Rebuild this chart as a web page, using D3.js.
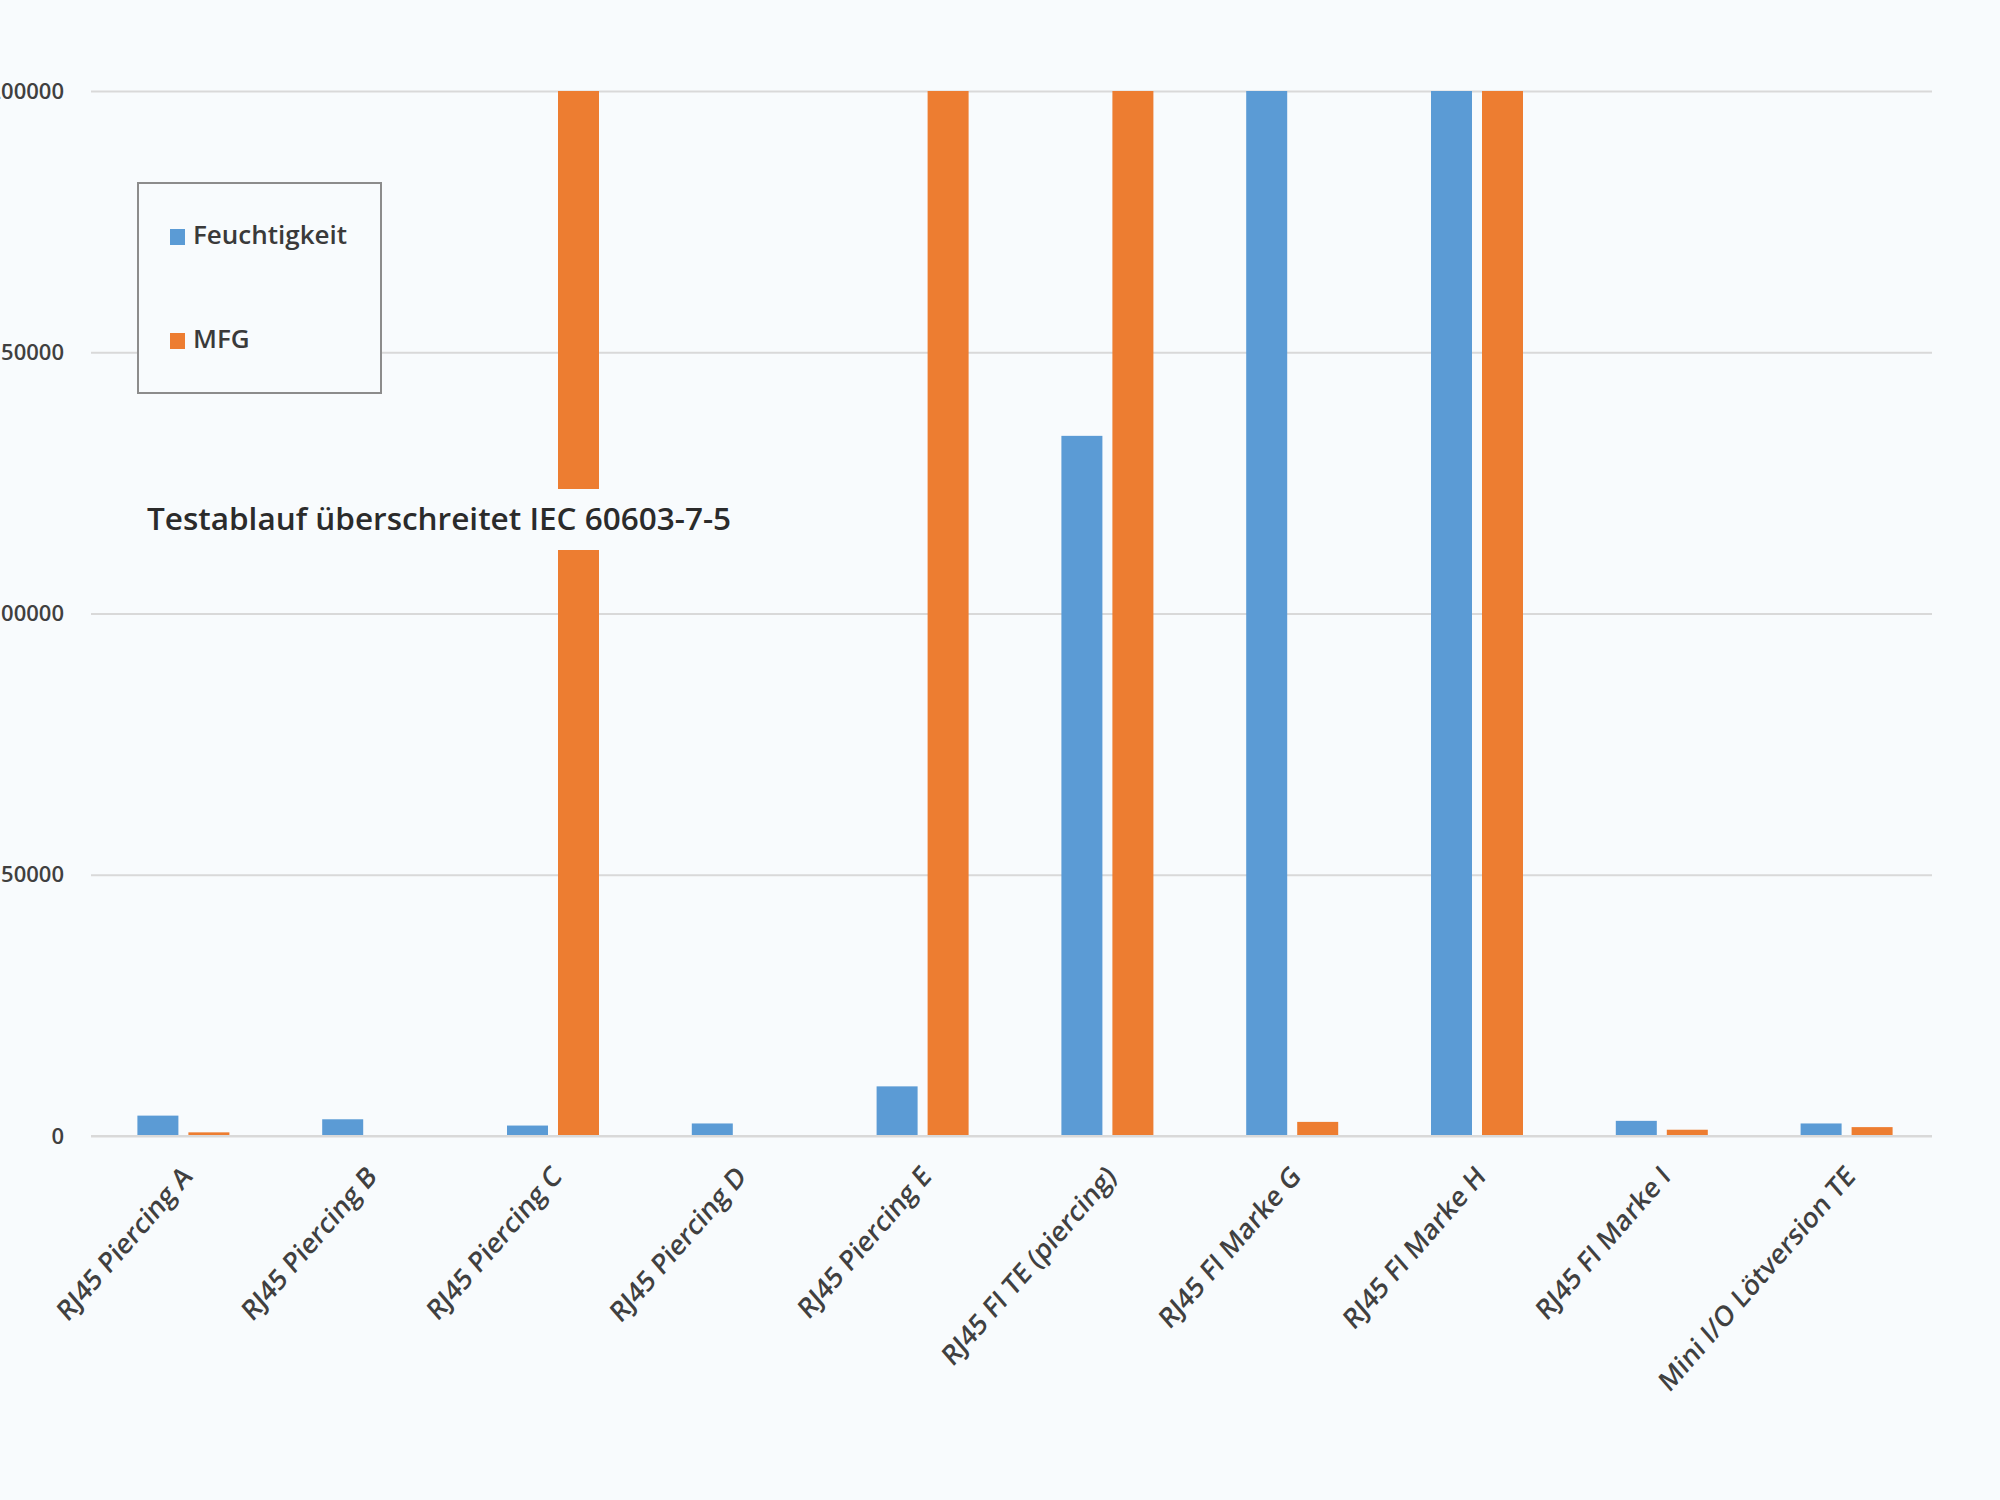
<!DOCTYPE html>
<html><head><meta charset="utf-8">
<script src="https://cdn.jsdelivr.net/npm/d3@7"></script>
<style>html,body{margin:0;padding:0;background:#f8fbfd;}</style>
</head><body>
<svg id="c" width="2000" height="1500"></svg>
<script>
const categories = ["RJ45 Piercing A","RJ45 Piercing B","RJ45 Piercing C","RJ45 Piercing D","RJ45 Piercing E","RJ45 FI TE (piercing)","RJ45 FI Marke G","RJ45 FI Marke H","RJ45 FI Marke I","Mini I/O Lötversion TE"];
const feuchtigkeit = [3900, 3200, 2000, 2400, 9500, 134000, 200000, 200000, 2900, 2400];
const mfg = [700, 0, 200000, 0, 200000, 200000, 2700, 200000, 1200, 1700];
const yTicks = [0, 50000, 100000, 150000, 200000];
const seriesNames = ["Feuchtigkeit","MFG"];
const colors = ["#5b9bd5","#ed7d31"];
const annotation = "Testablauf überschreitet IEC 60603-7-5";

const svg = d3.select("#c");
svg.append("rect").attr("width",2000).attr("height",1500).attr("fill","#f8fbfd");
const m = {left:91, top:91, bottom:364};
const W = 1848, H = 1500-m.top-m.bottom;
const gridW = 1932-m.left;
const g = svg.append("g").attr("transform",`translate(${m.left},${m.top})`);

const x = d3.scaleBand().domain(categories).range([0,W]).padding(0);
const y = d3.scaleLinear().domain([0,200000]).range([H,0]);

// gridlines
const ya = g.append("g").call(d3.axisLeft(y).tickValues(yTicks).tickSize(-gridW).tickFormat(d=>d));
ya.select(".domain").remove();
ya.selectAll(".tick line").attr("stroke","#d9d9d9").attr("stroke-width",2);
ya.selectAll(".tick text").attr("x",-27).attr("font-family","Open Sans").attr("font-size",22).attr("font-weight",600).attr("fill","#404040");

const bw = 41;
const data = categories.map((c,i)=>({c, v:[feuchtigkeit[i], mfg[i]]}));
const offs = [-46, 5];
data.forEach(d=>{
  d.v.forEach((v,k)=>{
    if(v<=0) return;
    g.append("rect").attr("x",x(d.c)+x.bandwidth()/2+offs[k]).attr("y",y(v))
      .attr("width",bw).attr("height",H-y(v)).attr("fill",colors[k]);
  });
});

// x axis baseline
g.append("line").attr("x1",0).attr("x2",gridW).attr("y1",H).attr("y2",H).attr("stroke","#d9d9d9").attr("stroke-width",2);
const xa = g.append("g").attr("transform",`translate(0,${H})`).call(d3.axisBottom(x).tickSize(0));
xa.select(".domain").remove();
xa.selectAll(".tick text").attr("font-family","Open Sans").attr("font-size",25).attr("font-weight",600).attr("fill","#404040")
  .attr("text-anchor","end").attr("dy",0).attr("y",0)
  .attr("transform","translate(10,42) scale(1,1.15) rotate(-45)");

// annotation
const ann = g.append("g");
const t = ann.append("text").attr("x",147-m.left).attr("y",522-m.top).attr("font-family","Open Sans").attr("font-size",31.5).attr("font-weight",600).attr("fill","#2b2b2b").attr("dominant-baseline","middle").text(annotation);
const bb = t.node().getBBox();
ann.insert("rect","text").attr("x",bb.x-4).attr("y",489-m.top).attr("width",bb.width+8).attr("height",61).attr("fill","#f8fbfd");

// legend
const lg = svg.append("g");
lg.append("rect").attr("x",138).attr("y",183).attr("width",243).attr("height",210).attr("fill","#f8fbfd").attr("stroke","#8c8c8c").attr("stroke-width",2);
seriesNames.forEach((n,i)=>{
  const yy = [237,341][i];
  lg.append("rect").attr("x",170).attr("y",yy-8).attr("width",15).attr("height",16).attr("fill",colors[i]);
  lg.append("text").attr("x",193).attr("y",yy).attr("dominant-baseline","middle").attr("font-family","Open Sans").attr("font-size",26).attr("font-weight",600).attr("fill","#3a3a3a").text(n);
});
</script>
</body></html>
